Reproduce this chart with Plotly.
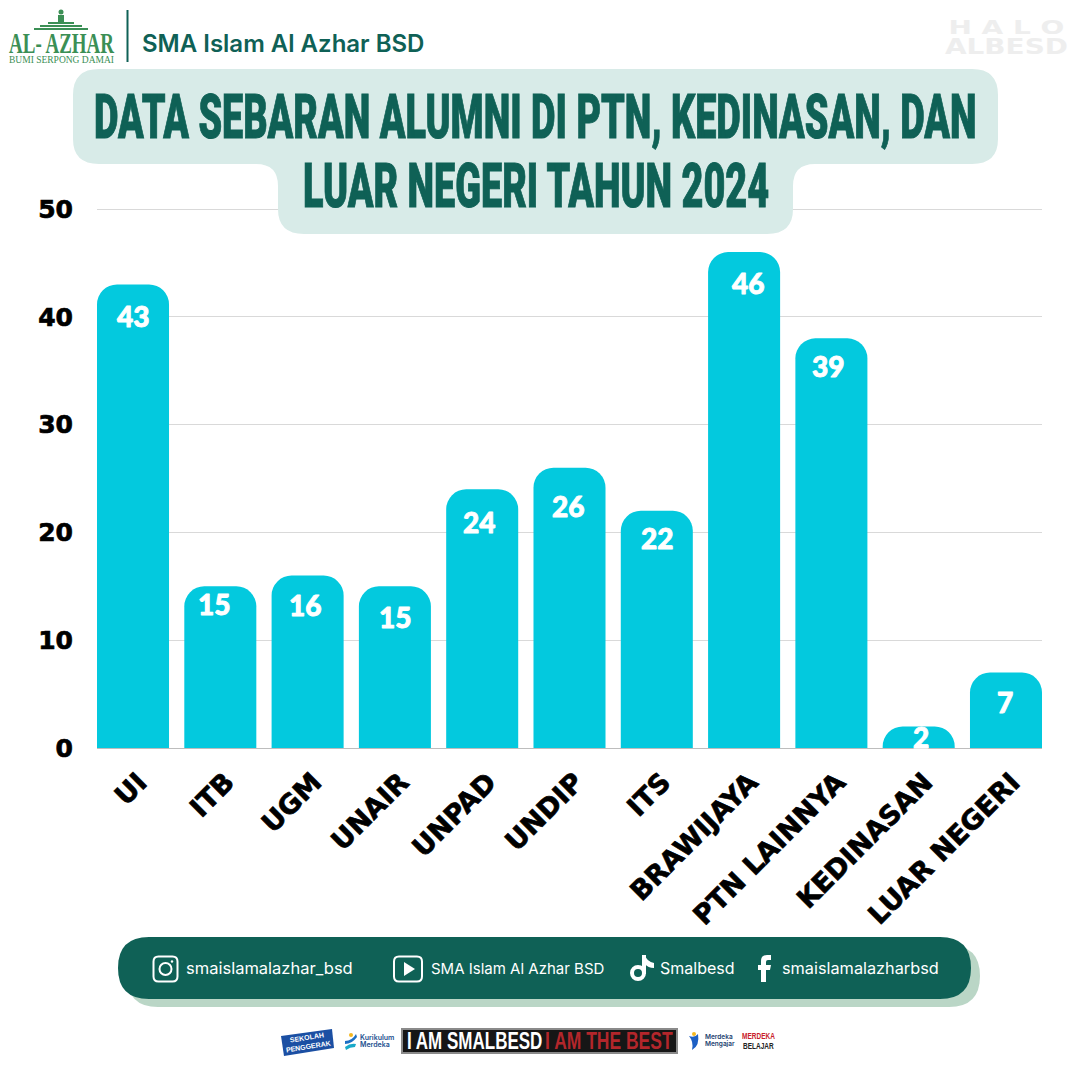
#!/usr/bin/env python3
"""Sebaran alumni SMA Islam Al Azhar BSD, 2024: poster-style bar chart."""

import json

import plotly.graph_objects as go

CATEGORIES = ["UI", "ITB", "UGM", "UNAIR", "UNPAD", "UNDIP", "ITS", "BRAWIJAYA",
              "PTN LAINNYA", "KEDINASAN", "LUAR NEGERI"]
# Bar heights as drawn. The PTN LAINNYA bar stands at 38 although its label says 39.
BAR_VALUES = [43, 15, 16, 15, 24, 26, 22, 46, 38, 2, 7]
BAR_LABELS = ["43", "15", "16", "15", "24", "26", "22", "46", "39", "2", "7"]
Y_TICKS = [0, 10, 20, 30, 40, 50]

TITLE_LINES = ["DATA SEBARAN ALUMNI DI PTN, KEDINASAN, DAN", "LUAR NEGERI TAHUN 2024"]
SCHOOL_NAME = "SMA Islam Al Azhar BSD"
SOCIALS = ["smaislamalazhar_bsd", "SMA Islam Al Azhar BSD", "Smalbesd", "smaislamalazharbsd"]

# the labels are hand placed in the poster: px under the bar top, px off the bar centre
LABEL_DROP = [32, 18, 29, 31, 33, 38, 27, 31, 28, 11, 29]
LABEL_NUDGE = [0, -6, -3, 0, -3, -2, 0, 4, -3, 2, -1]

SIZE = 1080
GREEN = "#0F6156"
LOGO_GREEN = "#3B8F55"
CYAN = "#03C9DE"

# no condensed font is installed, so these texts get stretched after drawing
STRETCH = {
    TITLE_LINES[0]: dict(sx=1, sy=1.62, stroke=GREEN, width=0.6),
    TITLE_LINES[1]: dict(sx=1, sy=1.62, stroke=GREEN, width=0.6),
    "AL- AZHAR": dict(sx=1, sy=1.5),
    "H A L O": dict(sx=1.4, sy=1),
    "ALBESD": dict(sx=1.27, sy=1),
    "I AM SMALBESD": dict(sx=1, sy=1.4),
    "I AM THE BEST": dict(sx=1, sy=1.4),
    "MERDEKA": dict(sx=1, sy=1.3),
    "BELAJAR": dict(sx=1, sy=1.3),
}

POST_SCRIPT = """
document.body.style.margin = '0';
var stretch = %s;
var barLabels = %s;
document.querySelectorAll('.annotation-text').forEach(function (t) {
  var s = stretch[t.textContent];
  if (s) {
    t.style.transformBox = 'fill-box';
    t.style.transformOrigin = 'center';
    t.style.transform = 'scale(' + s.sx + ',' + s.sy + ')';
    if (s.stroke) { t.style.stroke = s.stroke; t.style.strokeWidth = s.width + 'px'; }
  } else if (barLabels.indexOf(t.textContent) >= 0) {
    t.style.stroke = 'white';
    t.style.strokeWidth = '0.9px';
    t.style.strokeLinejoin = 'round';
  }
});
document.querySelectorAll('.xtick text, .ytick text').forEach(function (t) {
  t.style.stroke = 'black';
  t.style.strokeWidth = '0.7px';
  t.style.opacity = '0.999';
});
""" % (json.dumps(STRETCH), json.dumps(BAR_LABELS))


def X(x):
    return x / SIZE


def Y(y):
    return 1 - y / SIZE


def path_from(points):
    """Pixel commands [("M", x, y), ("Q", cx, cy, x, y), ...] to a paper-space path."""
    out = []
    for cmd, *vals in points:
        pairs = [f"{X(vals[i]):.5f},{Y(vals[i + 1]):.5f}" for i in range(0, len(vals), 2)]
        out.append(cmd + " " + " ".join(pairs))
    return " ".join(out) + " Z"


def rounded(x0, y0, x1, y1, r):
    return path_from([
        ("M", x0 + r, y0), ("L", x1 - r, y0), ("Q", x1, y0, x1, y0 + r),
        ("L", x1, y1 - r), ("Q", x1, y1, x1 - r, y1), ("L", x0 + r, y1),
        ("Q", x0, y1, x0, y1 - r), ("L", x0, y0 + r), ("Q", x0, y0, x0 + r, y0),
    ])


def add_path(fig, path, fill=None, line=None, width=0):
    fig.add_shape(type="path", path=path, xref="paper", yref="paper", layer="above",
                  fillcolor=fill or "rgba(0,0,0,0)",
                  line=dict(color=line or "rgba(0,0,0,0)", width=width))


def add_box(fig, x0, y0, x1, y1, fill):
    fig.add_shape(type="rect", xref="paper", yref="paper", layer="above",
                  x0=X(x0), x1=X(x1), y0=Y(y0), y1=Y(y1), fillcolor=fill, line_width=0)


def add_circle(fig, cx, cy, r, fill=None, line=None, width=0):
    fig.add_shape(type="circle", xref="paper", yref="paper", layer="above",
                  x0=X(cx - r), x1=X(cx + r), y0=Y(cy - r), y1=Y(cy + r),
                  fillcolor=fill or "rgba(0,0,0,0)",
                  line=dict(color=line or "rgba(0,0,0,0)", width=width))


def add_text(fig, x, y, text, size, color, family="Inter", weight=400, anchor="left", angle=0):
    fig.add_annotation(x=X(x), y=Y(y), xref="paper", yref="paper", text=text, showarrow=False,
                       xanchor=anchor, yanchor="middle", textangle=angle,
                       font=dict(family=family, size=size, color=color, weight=weight))


fig = go.Figure(go.Bar(
    x=list(range(len(CATEGORIES))),
    y=BAR_VALUES,
    width=0.825,
    marker=dict(color=CYAN, line_width=0),
))

# value labels sit under each bar top
for i, (val, label) in enumerate(zip(BAR_VALUES, BAR_LABELS)):
    fig.add_annotation(x=i, y=val, text=label, showarrow=False, yanchor="middle",
                       yshift=-LABEL_DROP[i], xshift=LABEL_NUDGE[i],
                       font=dict(family="Lato", size=28, color="white", weight=900))

# header
add_path(fig, path_from([
    ("M", 99, 69), ("L", 972, 69), ("Q", 998, 69, 998, 95), ("L", 998, 139),
    ("Q", 998, 164, 972, 164), ("L", 815, 164), ("Q", 793, 164, 793, 186),
    ("L", 793, 209), ("Q", 793, 234, 767, 234), ("L", 304, 234), ("Q", 278, 234, 278, 209),
    ("L", 278, 186), ("Q", 278, 164, 256, 164), ("L", 99, 164), ("Q", 73, 164, 73, 139),
    ("L", 73, 95), ("Q", 73, 69, 99, 69),
]), fill="#D8EBE8")
add_text(fig, 535.5, 117, TITLE_LINES[0], 37.8, GREEN, "Roboto", 900, "center")
add_text(fig, 536, 186, TITLE_LINES[1], 37.8, GREEN, "Roboto", 900, "center")

add_box(fig, 126.5, 10, 128.5, 62, GREEN)
add_text(fig, 140, 43, SCHOOL_NAME, 24, GREEN, weight=600)

# Al-Azhar logo
add_circle(fig, 61, 12, 2.5, fill=LOGO_GREEN)
add_box(fig, 58, 15, 64, 22, LOGO_GREEN)
add_box(fig, 48, 22, 74, 24, LOGO_GREEN)
add_box(fig, 40, 25, 82, 27, LOGO_GREEN)
add_box(fig, 34, 28, 88, 30, LOGO_GREEN)
add_text(fig, 61, 43, "AL- AZHAR", 19, LOGO_GREEN, "Liberation Serif", 700, "center")
add_text(fig, 61.5, 60, "BUMI SERPONG DAMAI", 9.5, LOGO_GREEN, "Liberation Serif", 400, "center")

# faint watermark
add_text(fig, 1006, 27, "H A L O", 20, "#EEEEEE", "DejaVu Sans", 700, "center")
add_text(fig, 1006, 46, "ALBESD", 22, "#EEEEEE", "DejaVu Sans", 700, "center")

# social bar
add_path(fig, rounded(127, 945, 980, 1007, 31), fill="#BAD6C6")
add_path(fig, rounded(118, 937, 971, 999, 31), fill=GREEN)

add_path(fig, rounded(153.5, 956.5, 177.5, 981.5, 5), line="white", width=2)
add_circle(fig, 165.5, 969, 6, line="white", width=2)
add_circle(fig, 172, 961.5, 1.2, fill="white")
add_path(fig, rounded(394, 956.5, 422, 981.5, 5), line="white", width=2)
add_path(fig, path_from([("M", 404, 962), ("L", 415, 969), ("L", 404, 976)]), fill="white")
add_circle(fig, 638, 973, 6, line="white", width=4)
add_box(fig, 642, 955, 646, 974, "white")
add_path(fig, path_from([("M", 645, 955), ("Q", 647, 962, 654, 963), ("L", 654, 968),
                         ("Q", 648, 968, 645, 964)]), fill="white")
add_path(fig, path_from([
    ("M", 761, 982), ("L", 761, 970), ("L", 758, 970), ("L", 758, 965), ("L", 761, 965),
    ("L", 761, 961), ("Q", 761, 955, 767, 955), ("L", 771, 955), ("L", 771, 960),
    ("L", 768, 960), ("Q", 766, 960, 766, 962), ("L", 766, 965), ("L", 771, 965),
    ("L", 770, 970), ("L", 766, 970), ("L", 766, 982),
]), fill="white")
for x, name, size in zip([184, 429, 658, 780], SOCIALS, [16.5, 15, 16, 16.3]):
    add_text(fig, x, 968, name, size, "white")

# partner logos along the bottom
add_path(fig, path_from([("M", 281, 1036), ("L", 332, 1029), ("L", 334, 1048), ("L", 284, 1056)]),
         fill="#1B4FA3")
add_text(fig, 307, 1042, "SEKOLAH<br>PENGGERAK", 7, "white", "Liberation Sans", 700,
         "center", angle=-9)
add_circle(fig, 351, 1035, 2, fill="#F5B81F")
add_path(fig, path_from([("M", 345, 1041), ("Q", 352, 1041, 356, 1034), ("L", 357, 1037),
                         ("Q", 352, 1044, 345, 1044)]), fill="#1C6FC4")
add_path(fig, path_from([("M", 345, 1047), ("Q", 350, 1043, 356, 1044), ("L", 355, 1047),
                         ("Q", 350, 1047, 346, 1050)]), fill="#18A9C9")
add_text(fig, 358, 1037, "Kurikulum", 7, "#1B4F8F", weight=600)
add_text(fig, 358, 1044, "Merdeka", 7, "#1B4F8F", weight=600)

add_box(fig, 401, 1028, 678, 1054, "#8A8A8A")
add_box(fig, 403, 1030, 676, 1052, "#161616")
add_text(fig, 405, 1041, "I AM SMALBESD", 17, "white", "Liberation Sans", 700)
add_text(fig, 543, 1041, "I AM THE BEST", 17.5, "#B3262B", "Liberation Sans", 700)

add_circle(fig, 694, 1034, 2, fill="#F5B81F")
add_path(fig, path_from([("M", 689, 1036), ("Q", 695, 1038, 698, 1034), ("Q", 700, 1046, 692, 1050),
                         ("Q", 694, 1042, 689, 1036)]), fill="#1C5FC4")
add_text(fig, 703, 1037, "Merdeka", 6.5, "#1B3F6F", weight=600)
add_text(fig, 703, 1044, "Mengajar", 6.5, "#1B3F6F", weight=600)
add_text(fig, 758.5, 1035.5, "MERDEKA", 6.5, "#C8202A", "Liberation Sans", 700, "center")
add_text(fig, 758.5, 1045, "BELAJAR", 6.5, "#222222", "Liberation Sans", 700, "center")

fig.update_layout(
    width=SIZE,
    height=SIZE,
    margin=dict(l=0, r=0, t=0, b=0),
    paper_bgcolor="white",
    plot_bgcolor="white",
    showlegend=False,
    barcornerradius=20,
    xaxis=dict(
        domain=[97 / SIZE, 1042 / SIZE],
        range=[-0.4125, 10.4125],
        tickmode="array",
        tickvals=list(range(len(CATEGORIES))),
        ticktext=CATEGORIES,
        tickangle=-45,
        ticklabelstandoff=12,
        ticklabelshift=6,
        showgrid=False,
        zeroline=False,
        automargin=False,
        tickfont=dict(family="DejaVu Sans", size=27, color="black", weight=700),
    ),
    yaxis=dict(
        # axis runs 2px past 50: plotly drops gridlines within 1px of the axis end
        domain=[1 - 748 / SIZE, 1 - 207 / SIZE],
        range=[0, 50.186],
        tickmode="array",
        tickvals=Y_TICKS,
        ticklabelstandoff=23,
        gridcolor="#D9D9D9",
        gridwidth=1,
        zeroline=True,
        zerolinecolor="#BDBDBD",
        zerolinewidth=1,
        automargin=False,
        tickfont=dict(family="DejaVu Sans", size=25, color="black", weight=700),
    ),
)

fig.write_html("out.html", post_script=POST_SCRIPT, config=dict(displayModeBar=False))
